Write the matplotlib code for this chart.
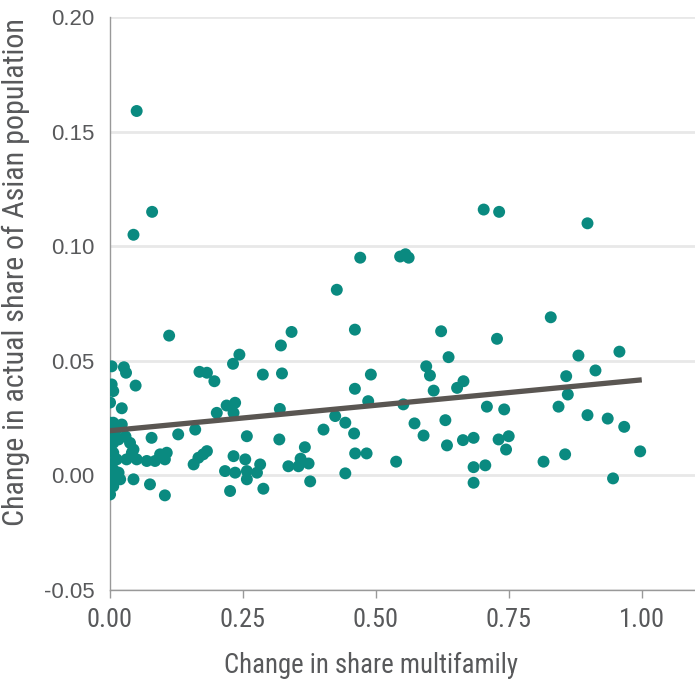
import matplotlib

matplotlib.use("Agg")
import matplotlib.pyplot as plt
from matplotlib import font_manager
import numpy as np

# change in share multifamily (x) vs change in actual share of Asian population (y)
share_multifamily = [
    # outliers
    0.051, 0.080, 0.045, 0.703, 0.732, 0.898, 0.546, 0.556, 0.562, 0.471, 0.427, 0.829, 0.112,
    # mid level
    0.342, 0.322, 0.461, 0.623, 0.637, 0.728, 0.881, 0.958, 0.004, 0.027, 0.031, 0.004, 0.007,
    0.049, 0.001, 0.023, 0.169, 0.183, 0.197, 0.244, 0.232, 0.288, 0.324, 0.491, 0.595, 0.602,
    0.461, 0.609, 0.653, 0.665, 0.913, 0.858, 0.861,
    # around the trend
    0.2015, 0.220, 0.236, 0.233, 0.320, 0.486, 0.552, 0.709, 0.7415, 0.8436, 0.898, 0.936,
    0.967, 0.424, 0.443, 0.402, 0.4595, 0.573, 0.631, 0.590, 0.634, 0.664, 0.684, 0.731,
    0.750, 0.745, 0.319, 0.367, 0.258, 0.161, 0.129, 0.079,
    # low
    0.359, 0.374, 0.355, 0.336, 0.4615, 0.483, 0.5385, 0.443, 0.377, 0.684, 0.706, 0.684,
    0.8154, 0.856, 0.997, 0.946, 0.217, 0.233, 0.236, 0.255, 0.258, 0.258, 0.277, 0.283,
    0.2265, 0.289, 0.158, 0.167, 0.176, 0.183,
    # left cluster
    0.007, 0.023, 0.001, 0.010, 0.007, 0.017, 0.0385, 0.045, 0.042, 0.007, 0.0135, 0.032,
    0.051, 0.070, 0.0855, 0.095, 0.1075, 0.104, 0.007, 0.017, 0.010, 0.020, 0.007, 0.045,
    0.076, 0.104, 0.001, 0.001, 0.003, 0.013, 0.030,
]
share_asian = [
    0.159, 0.115, 0.105, 0.116, 0.115, 0.110, 0.0955, 0.0965, 0.095, 0.095, 0.081, 0.069, 0.061,
    0.0626, 0.0567, 0.0636, 0.0629, 0.0516, 0.0596, 0.0523, 0.054, 0.0476, 0.0472, 0.0448,
    0.0397, 0.0368, 0.0392, 0.0318, 0.0293, 0.0452, 0.0448, 0.0411, 0.0527, 0.0487, 0.044,
    0.0445, 0.044, 0.0476, 0.0436, 0.0378, 0.037, 0.0382, 0.0411, 0.0458, 0.0433, 0.0353,
    0.0273, 0.0305, 0.0317, 0.0273, 0.029, 0.0324, 0.031, 0.030, 0.0288, 0.030, 0.0263,
    0.0248, 0.0212, 0.0259, 0.023, 0.020, 0.0183, 0.0227, 0.0241, 0.0174, 0.0131, 0.0154,
    0.0164, 0.0157, 0.0171, 0.0113, 0.0157, 0.0123, 0.0171, 0.020, 0.0179, 0.0164,
    0.0073, 0.0052, 0.004, 0.004, 0.0096, 0.0096, 0.006, 0.0009, -0.0026, 0.0036, 0.0044,
    -0.0032, 0.006, 0.0092, 0.0105, -0.0013, 0.0019, 0.0084, 0.0012, 0.007, 0.0019, -0.0017,
    0.0012, 0.0048, -0.0068, -0.0058, 0.0048, 0.0077, 0.0092, 0.0106,
    0.023, 0.0222, 0.023, 0.0171, 0.0142, 0.0157, 0.0142, 0.0113, 0.0099, 0.0099, 0.007,
    0.007, 0.007, 0.0063, 0.0063, 0.0092, 0.0099, 0.007, 0.0026, 0.0012, -0.001, -0.0017,
    -0.0047, -0.0017, -0.0039, -0.0087, -0.0083, 0.005, 0.019, 0.020, 0.017,
]

# fitted trend line
trend_intercept = 0.0195
trend_slope = 0.0222
trend_x = [0.0, 1.0]

x_ticks = [0.0, 0.25, 0.50, 0.75, 1.00]
x_ticklabels = ["0.00", "0.25", "0.50", "0.75", "1.00"]
y_ticks = [-0.05, 0.0, 0.05, 0.10, 0.15, 0.20]
y_ticklabels = ["-0.05", "0.00", "0.05", "0.10", "0.15", "0.20"]

TEAL = "#0a8a80"
TEXT = "#58595b"


def narrow_font():
    """Pick an installed condensed face if there is one (reference uses a narrow gothic)."""
    fonts = font_manager.fontManager.ttflist
    for want in ("Liberation Sans Narrow", "Roboto Condensed", "Open Sans Condensed",
                 "Noto Sans Condensed", "DejaVu Sans Condensed"):
        if any(f.name == want for f in fonts):
            return font_manager.FontProperties(family=want)
    for f in fonts:
        if str(f.stretch) in ("condensed", "semi-condensed", "extra-condensed") \
                or "Condensed" in f.fname or "Narrow" in f.fname:
            return font_manager.FontProperties(fname=f.fname)
    return font_manager.FontProperties(family="DejaVu Sans")


def fit_width(fig, text, target_px, vertical=False):
    """Scale a text's font size so its rendered length matches the reference."""
    bb = text.get_window_extent(fig.canvas.get_renderer())
    cur = bb.height if vertical else bb.width
    text.set_fontsize(text.get_fontsize() * target_px / cur)


def main():
    fig = plt.figure(figsize=(6.95, 6.84), dpi=100)
    ax = fig.add_axes([0.1576, 0.1374, 0.8424, 0.8377])

    ax.scatter(share_multifamily, share_asian, s=74, color=TEAL, edgecolors="none", zorder=3)
    tx = np.array(trend_x)
    ax.plot(tx, trend_intercept + trend_slope * tx, color="#5a5652", lw=3.8,
            solid_capstyle="butt", zorder=4)

    ax.set_xlim(0, 1.10)
    ax.set_ylim(-0.05, 0.20)

    fp = narrow_font()

    ax.set_xticks(x_ticks)
    ax.set_xticklabels(x_ticklabels, fontproperties=fp, color=TEXT)
    ax.set_yticks(y_ticks)
    ax.set_yticklabels(y_ticklabels, family="Liberation Sans", fontsize=16, color=TEXT)
    ax.tick_params(axis="x", length=6, width=1, color="#999999", pad=7)
    ax.tick_params(axis="y", length=0, pad=11)

    ax.yaxis.grid(True, color="#e8e8e8", lw=2)
    ax.set_axisbelow(True)
    for side in ("top", "right"):
        ax.spines[side].set_visible(False)
    for side in ("left", "bottom"):
        ax.spines[side].set_color("#999999")
        ax.spines[side].set_linewidth(1)

    xl = ax.set_xlabel("Change in share multifamily", fontproperties=fp, color=TEXT)
    yl = ax.set_ylabel("Change in actual share of Asian population", fontproperties=fp,
                       color=TEXT)
    for lab in ax.get_xticklabels():
        lab.set_fontsize(20)
    fig.canvas.draw()
    fit_width(fig, xl, 292)
    fit_width(fig, yl, 505, vertical=True)
    for lab in ax.get_xticklabels():
        fit_width(fig, lab, 46)

    # axis titles centred where the reference has them
    ax.xaxis.set_label_coords((371 - 109.5) / 585.5, -(665 - 590) / 573)
    xl.set_va("center")
    ax.yaxis.set_label_coords(-(109.5 - 16) / 585.5, (590 - 272) / 573)
    yl.set_va("center")

    fig.savefig("out.png", dpi=100)


if __name__ == "__main__":
    main()
